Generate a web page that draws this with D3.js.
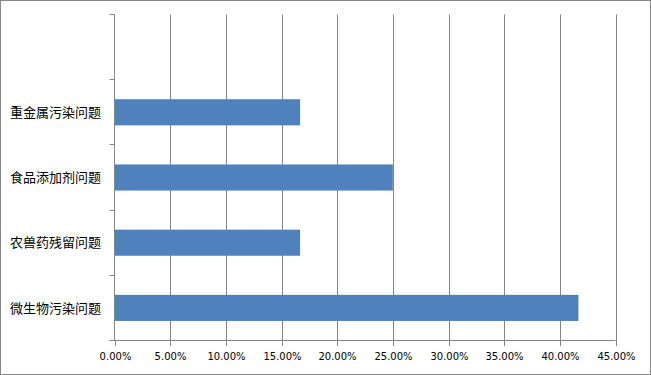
<!DOCTYPE html>
<html><head><meta charset="utf-8">
<script src="https://cdn.jsdelivr.net/npm/d3@7/dist/d3.min.js"></script>
<style>body{margin:0;background:#fff;}svg{display:block;}</style>
</head><body>
<svg id="c" width="651" height="375"></svg>
<script>
const categories = ["", "重金属污染问题", "食品添加剂问题", "农兽药残留问题", "微生物污染问题"];
const values = [null, 0.1667, 0.25, 0.1667, 0.4167];
const xTicks = [0, 0.05, 0.10, 0.15, 0.20, 0.25, 0.30, 0.35, 0.40, 0.45];

(function(){
const svg = d3.select("#c");
const W = 651, H = 375;
const pLeft = 114.5, pRight = 615.5, pTop = 14.5, pBottom = 340.5;
const grid = "#868686";

svg.append("rect").attr("x",0.5).attr("y",0.5).attr("width",W-1).attr("height",H-1)
  .attr("fill","#fff").attr("stroke","#888888");

const x = d3.scaleLinear().domain([0,0.45]).range([pLeft,pRight]);
const y = d3.scaleBand().domain(categories.map((c,i)=>i)).range([pTop,pBottom])
  .paddingInner(0.6).paddingOuter(0.3);
const yb = d3.scaleBand().domain(categories.map((c,i)=>i)).range([pTop,pBottom]);

// gridlines
svg.append("g").selectAll("line").data(xTicks.slice(1)).join("line")
  .attr("x1",d=>Math.round(x(d))+0.5).attr("x2",d=>Math.round(x(d))+0.5)
  .attr("y1",pTop).attr("y2",pBottom).attr("stroke",grid);

// bars
svg.append("g").selectAll("rect").data(values.map((v,i)=>({v,i})).filter(d=>d.v!=null)).join("rect")
  .attr("x",x(0)).attr("y",d=>y(d.i)).attr("width",d=>x(d.v)-x(0)).attr("height",y.bandwidth())
  .attr("fill","#4F81BD");

// x axis
const xa = svg.append("g").attr("transform",`translate(0,${pBottom-0.5})`)
  .call(d3.axisBottom(x).tickValues(xTicks).tickFormat(d3.format(".2%")).tickSizeOuter(0).tickSize(6));
xa.select(".domain").attr("stroke",grid).attr("d",`M${pLeft-5},0.5H${pRight}`);
xa.selectAll(".tick line").attr("stroke",grid);
xa.selectAll(".tick").attr("transform",d=>`translate(${Math.round(x(d))+0.5},0)`);
xa.selectAll("text").attr("font-family","DejaVu Sans").attr("font-size","10px").attr("fill","#000").attr("dy","1.05em");

// y axis
const ya = svg.append("g");
ya.append("line").attr("x1",pLeft).attr("x2",pLeft).attr("y1",pTop).attr("y2",pBottom).attr("stroke",grid);
const bounds = categories.map((c,i)=>yb(i)).concat([pBottom]);
ya.selectAll("line.t").data(bounds).join("line").attr("class","t")
  .attr("x1",pLeft-5).attr("x2",pLeft).attr("y1",d=>Math.floor(d)+0.5).attr("y2",d=>Math.floor(d)+0.5).attr("stroke",grid);
ya.selectAll("text").data(categories).join("text")
  .attr("x",101).attr("y",(d,i)=>yb(i)+yb.bandwidth()/2).attr("dy","0.36em")
  .attr("text-anchor","end").attr("font-family","Noto Sans CJK SC").attr("font-size","13px").attr("fill","#000")
  .text(d=>d);
})();
</script>
</body></html>
